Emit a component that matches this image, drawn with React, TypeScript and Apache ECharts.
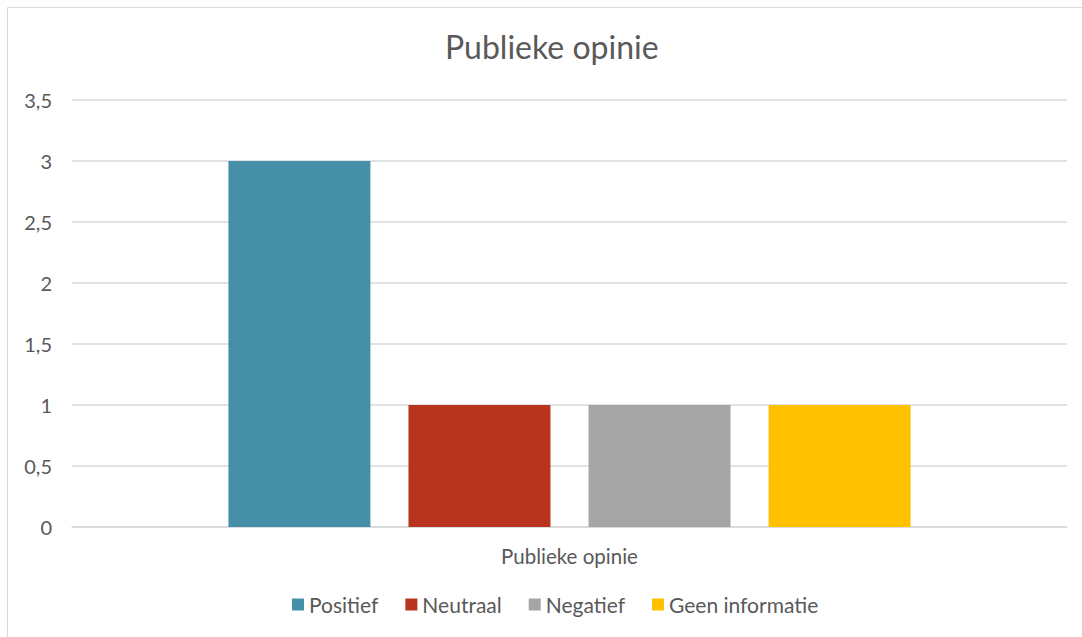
import React, { useEffect, useRef } from "react";
import * as echarts from "echarts";

const categories = ["Publieke opinie"];
const seriesNames = ["Positief", "Neutraal", "Negatief", "Geen informatie"];
const seriesValues = [[3], [1], [1], [1]];
const seriesColors = ["#4590A6", "#B8341F", "#A5A5A5", "#FFC000"];
const chartTitle = "Publieke opinie";

const FONT = "Lato, 'Open Sans', sans-serif";
const TEXT = "#595959";

export default function App() {
  const ref = useRef<HTMLDivElement>(null);
  useEffect(() => {
    if (!ref.current) return;
    const chart = echarts.init(ref.current, null, { renderer: "svg" });
    chart.setOption({
      animation: false,
      backgroundColor: "#ffffff",
      textStyle: { fontFamily: FONT, color: TEXT },
      title: {
        text: chartTitle,
        left: 440,
        top: 25,
        textStyle: { fontFamily: FONT, fontSize: 32, fontWeight: "normal", color: TEXT },
      },
      graphic: [
        { type: "line", shape: { x1: 7.5, y1: 7.5, x2: 1082, y2: 7.5 }, style: { stroke: "#D9D9D9", lineWidth: 1 } },
        { type: "line", shape: { x1: 7.5, y1: 7.5, x2: 7.5, y2: 637 }, style: { stroke: "#D9D9D9", lineWidth: 1 } },
      ],
      legend: {
        bottom: 17,
        left: 287,
        itemWidth: 12,
        itemHeight: 12,
        itemGap: 27,
        icon: "rect",
        textStyle: { fontFamily: FONT, fontSize: 21, color: TEXT },
        data: seriesNames,
      },
      grid: { left: 72, right: 15, top: 100, bottom: 110, containLabel: false },
      xAxis: {
        type: "category",
        data: categories,
        axisLine: { lineStyle: { color: "#D9D9D9", width: 1.5 } },
        axisTick: { show: false },
        axisLabel: { fontFamily: FONT, fontSize: 20.5, color: TEXT, margin: 18 },
      },
      yAxis: {
        type: "value",
        min: 0,
        max: 3.5,
        interval: 0.5,
        axisLine: { show: false },
        axisTick: { show: false },
        splitLine: { lineStyle: { color: "#D9D9D9", width: 1.5 } },
        axisLabel: {
          fontFamily: FONT,
          fontSize: 20,
          color: TEXT,
          margin: 20,
          formatter: (v: number) => String(v).replace(".", ","),
        },
      },
      series: seriesNames.map((name, i) => ({
        name,
        type: "bar",
        data: seriesValues[i],
        barWidth: 142,
        barGap: "26.8%",
        itemStyle: { color: seriesColors[i] },
      })),
    });
    return () => chart.dispose();
  }, []);
  return (
    <div
      ref={ref}
      style={{ position: "fixed", left: 0, top: 0, width: 1082, height: 637 }}
    />
  );
}
